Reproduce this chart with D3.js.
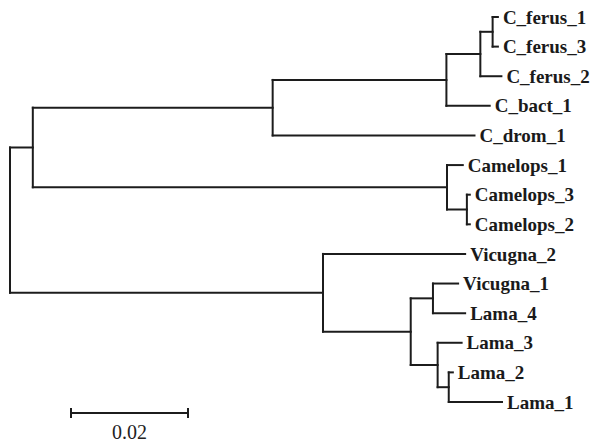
<!DOCTYPE html>
<html>
<head>
<meta charset="utf-8">
<script src="https://cdn.jsdelivr.net/npm/d3@7"></script>
<style>
  html, body { margin: 0; padding: 0; background: #fff; }
  svg { display: block; }
</style>
</head>
<body>
<svg id="chart" width="592" height="442"></svg>
<script>
// Tree topology: node ids, parent ids, branch lengths (substitutions/site)
const nodeIds = ["root", "A", "Camelus", "BF", "F", "F13",
  "C_ferus_1", "C_ferus_3", "C_ferus_2", "C_bact_1", "C_drom_1",
  "Camelops", "Camelops_1", "C32", "Camelops_3", "Camelops_2",
  "LV", "Vicugna_2", "LV2", "VL", "Vicugna_1", "Lama_4",
  "L3", "Lama_3", "L21", "Lama_2", "Lama_1"];
const parentIds = ["", "root", "A", "Camelus", "BF", "F",
  "F13", "F13", "F", "BF", "Camelus",
  "A", "Camelops", "Camelops", "C32", "C32",
  "root", "LV", "LV", "LV2", "VL", "VL",
  "LV2", "L3", "L3", "L21", "L21"];
const branchLengths = [0, 0.0039, 0.0410, 0.0297, 0.0058, 0.0021,
  0.0009, 0.0009, 0.0036, 0.0074, 0.0345,
  0.0708, 0.0027, 0.0034, 0.0005, 0.0005,
  0.0535, 0.0243, 0.0150, 0.0038, 0.0043, 0.0055,
  0.0046, 0.0041, 0.0019, 0.0007, 0.0091];
// Leaf order top to bottom
const leafNames = ["C_ferus_1", "C_ferus_3", "C_ferus_2", "C_bact_1", "C_drom_1",
  "Camelops_1", "Camelops_3", "Camelops_2", "Vicugna_2", "Vicugna_1",
  "Lama_4", "Lama_3", "Lama_2", "Lama_1"];
// Scale bar
const scaleBarValue = 0.02;
const scaleBarLabel = "0.02";

const svg = d3.select("#chart");
const stroke = "#1c1c1c";

const table = nodeIds.map((id, i) => ({ id, parent: parentIds[i] || null, len: branchLengths[i] }));
const root = d3.stratify().id(d => d.id).parentId(d => d.parent)(table);

root.each(n => { n.dist = n.parent ? n.parent.dist + n.data.len : 0; });
// order children according to leafNames
const leafIndex = new Map(leafNames.map((n, i) => [n, i]));
root.eachAfter(n => {
  if (n.children) {
    n.children.sort((a, b) => a.minIdx - b.minIdx);
    n.minIdx = d3.min(n.children, c => c.minIdx);
  } else n.minIdx = leafIndex.get(n.id);
});

const pxPerUnit = 117 / 0.02;
const x = d3.scaleLinear().domain([0, 0.1]).range([10, 10 + 0.1 * pxPerUnit]);
const y = d3.scalePoint().domain(leafNames).range([17, 402]);

root.eachAfter(n => {
  if (n.children) {
    n.yy = (n.children[0].yy + n.children[n.children.length - 1].yy) / 2;
  } else n.yy = y(n.id);
  n.xx = x(n.dist);
});

const g = svg.append("g");
// horizontal branches
g.selectAll("line.h").data(root.descendants().filter(n => n.parent))
  .join("line").attr("class", "h")
  .attr("x1", n => n.parent.xx).attr("x2", n => n.xx)
  .attr("y1", n => n.yy).attr("y2", n => n.yy)
  .attr("stroke", stroke).attr("stroke-width", 2).attr("stroke-linecap", "square");
// vertical connectors
g.selectAll("line.v").data(root.descendants().filter(n => n.children))
  .join("line").attr("class", "v")
  .attr("x1", n => n.xx).attr("x2", n => n.xx)
  .attr("y1", n => n.children[0].yy).attr("y2", n => n.children[n.children.length - 1].yy)
  .attr("stroke", stroke).attr("stroke-width", 2).attr("stroke-linecap", "square");
// root stub
// labels
g.selectAll("text.leaf").data(root.leaves())
  .join("text").attr("class", "leaf")
  .attr("x", n => n.xx + 5).attr("y", n => n.yy).attr("dy", "0.35em")
  .attr("font-family", "'Liberation Serif', 'DejaVu Serif', serif")
  .attr("font-weight", "bold").attr("font-size", 19).attr("fill", "#1a1a1a")
  .text(n => n.id);

// scale bar
const sbX0 = 71, sbY = 413;
const sbLen = x(scaleBarValue) - x(0);
const sb = svg.append("g");
sb.append("line").attr("x1", sbX0).attr("x2", sbX0 + sbLen).attr("y1", sbY).attr("y2", sbY)
  .attr("stroke", stroke).attr("stroke-width", 2);
[sbX0, sbX0 + sbLen].forEach(px => sb.append("line")
  .attr("x1", px).attr("x2", px).attr("y1", sbY - 5).attr("y2", sbY + 5)
  .attr("stroke", stroke).attr("stroke-width", 2));
sb.append("text").attr("x", sbX0 + sbLen / 2).attr("y", 439).attr("text-anchor", "middle")
  .attr("font-family", "'Liberation Serif', 'DejaVu Serif', serif")
  .attr("font-size", 20).attr("fill", "#222").text(scaleBarLabel);
</script>
</body>
</html>
